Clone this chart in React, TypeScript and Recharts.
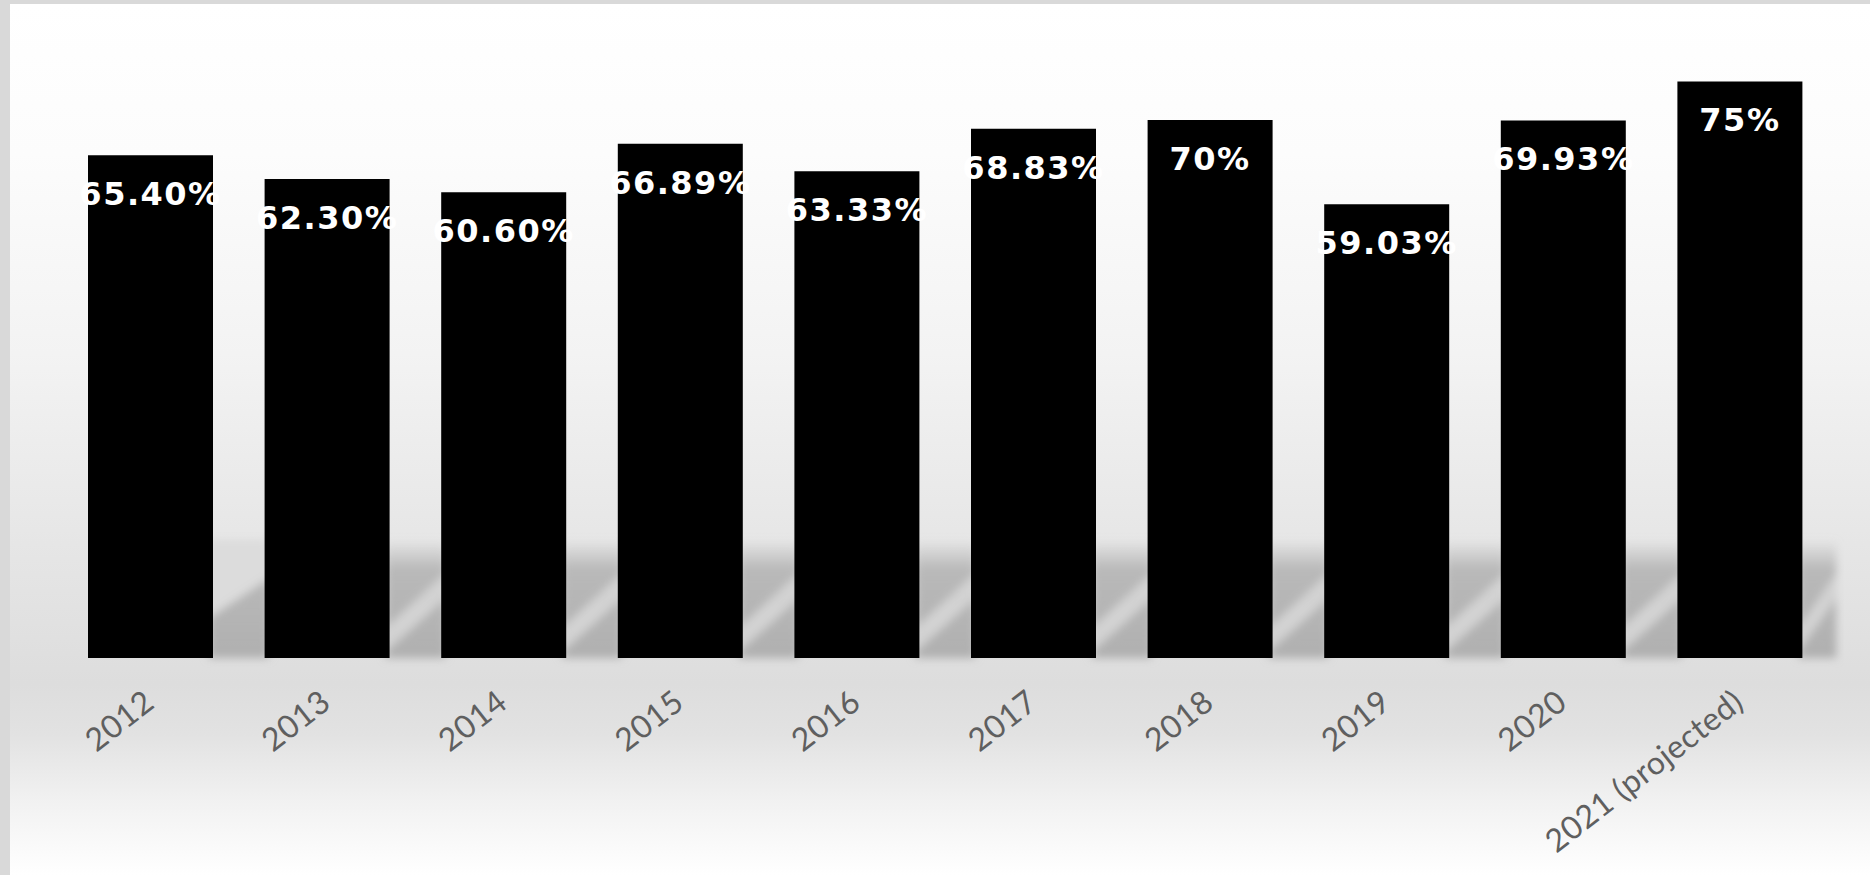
import React from 'react';
import { BarChart, Bar, XAxis, YAxis, LabelList } from 'recharts';

const years = ['2012', '2013', '2014', '2015', '2016', '2017', '2018', '2019', '2020', '2021 (projected)'];
const rates = [0.654, 0.623, 0.606, 0.6689, 0.6333, 0.6883, 0.70, 0.5903, 0.6993, 0.75];
const rateLabels = ['65.40%', '62.30%', '60.60%', '66.89%', '63.33%', '68.83%', '70%', '59.03%', '69.93%', '75%'];

const data = years.map((y, i) => ({ year: y, rate: rates[i], label: rateLabels[i] }));

const W = 1870;
const H = 875;
const BAR_W = 125;

// soft floor reflection drawn under the bars
const ShadowShape = (props: any) => {
  const { x, y, width, height, index } = props;
  const base = y + height;
  const gap = index === data.length - 1 ? 30 : 52;
  const left = x + width - 4;
  return (
    <g filter="url(#blur)">
      <rect x={left} y={base - 118} width={gap + 8} height={118} fill="url(#floorGrad)" />
      <polygon
        points={`${left},${base - 30} ${left + gap + 8},${base - 85} ${left + gap + 8},${base - 60} ${left},${base - 6}`}
        fill="#d6d6d6"
        opacity={index === 0 ? 0 : 0.9}
      />
      {index === 0 && (
        <polygon
          points={`${left},${base - 118} ${left + gap + 8},${base - 118} ${left + gap + 8},${base - 80} ${left},${base - 40}`}
          fill="#dcdcdc"
        />
      )}
    </g>
  );
};

const YearTick = (props: any) => {
  const { x, y, payload } = props;
  const tx = x + 6;
  const ty = y + 48;
  return (
    <text
      x={tx}
      y={ty}
      transform={`rotate(-38, ${tx}, ${ty})`}
      textAnchor="end"
      fill="#5f5f5f"
      fontFamily="Lato, 'Open Sans', sans-serif"
      fontSize={32}
      letterSpacing={0.5}
    >
      {payload.value}
    </text>
  );
};

const RateLabel = (props: any) => {
  const { x, y, width, value } = props;
  return (
    <text
      x={x + width / 2}
      y={y + 50}
      textAnchor="middle"
      fill="#ffffff"
      fontFamily="'DejaVu Sans', Verdana, sans-serif"
      fontWeight="bold"
      fontSize={32}
      letterSpacing={1.5}
    >
      {value}
    </text>
  );
};

export default function App() {
  return (
    <div style={{ position: 'relative', width: W, height: H, background: '#d9d9d9', overflow: 'hidden' }}>
      <style>{`body{margin:0}`}</style>
      <div
        style={{
          position: 'absolute',
          left: 10,
          top: 4,
          width: W - 10,
          height: H - 4,
          background:
            'linear-gradient(to bottom, #ffffff 0px, #fcfcfc 150px, #f3f3f3 350px, #e6e6e6 540px, #dddddd 680px, #e2e2e2 730px, #f2f2f2 800px, #ffffff 871px)',
        }}
      />
      <div style={{ position: 'absolute', left: 0, top: 0 }}>
        <BarChart width={W} height={H} data={data} margin={{ top: 43, right: 42, left: 62, bottom: 0 }}>
          <defs>
            <filter id="blur" x="-20%" y="-20%" width="140%" height="140%">
              <feGaussianBlur stdDeviation="4" />
            </filter>
            <linearGradient id="floorGrad" x1="0" y1="0" x2="0" y2="1">
              <stop offset="0%" stopColor="#b4b4b4" stopOpacity={0} />
              <stop offset="25%" stopColor="#b4b4b4" stopOpacity={0.9} />
              <stop offset="100%" stopColor="#b0b0b0" stopOpacity={1} />
            </linearGradient>
          </defs>
          <XAxis
            dataKey="year"
            axisLine={false}
            tickLine={false}
            tickSize={0}
            tickMargin={0}
            interval={0}
            height={217}
            tick={<YearTick />}
          />
          <XAxis xAxisId="shadow" dataKey="year" hide />
          <YAxis hide domain={[0, 0.8]} />
          <Bar xAxisId="shadow" dataKey="rate" barSize={BAR_W} shape={<ShadowShape />} isAnimationActive={false} />
          <Bar dataKey="rate" barSize={BAR_W} fill="#000000" isAnimationActive={false}>
            <LabelList dataKey="label" content={<RateLabel />} />
          </Bar>
        </BarChart>
      </div>
    </div>
  );
}
